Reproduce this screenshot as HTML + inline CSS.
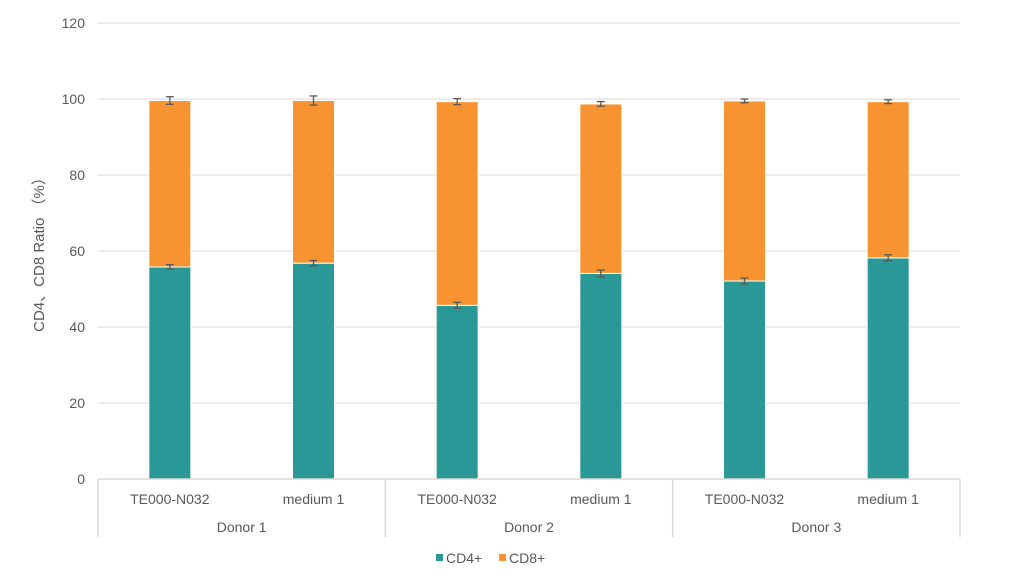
<!DOCTYPE html>
<html><head><meta charset="utf-8"><style>
body{margin:0;background:#fff;}
svg text{font-family:"Liberation Sans","Noto Sans CJK SC",sans-serif;fill:#595959;}
</style></head><body>
<svg id="chart" width="1012" height="573" viewBox="0 0 1012 573" xmlns="http://www.w3.org/2000/svg">
<g id="grid"></g>
<g id="yticks"></g>
<g id="bars"></g>
<g id="xaxis"></g>
<text transform="translate(44,251) rotate(-90)" text-anchor="middle" font-size="15">CD4、CD8 Ratio （%）</text>
<g>
<rect x="436" y="554" width="7" height="7" fill="#2a9896"/>
<text x="446" y="563" font-size="14">CD4+</text>
<rect x="499" y="554" width="7" height="7" fill="#f79431"/>
<text x="509" y="563" font-size="14">CD8+</text>
</g>
</svg>
<script>
const categories = ["TE000-N032","medium 1","TE000-N032","medium 1","TE000-N032","medium 1"];
const groups = ["Donor 1","Donor 2","Donor 3"];
const cd4 = [55.8, 56.8, 45.7, 54.1, 52.1, 58.2];
const cd8 = [43.8, 42.8, 53.6, 44.6, 47.4, 41.1];
const cd4Err = [0.6, 0.7, 0.8, 0.9, 0.8, 0.8];
const cd8Err = [1.0, 1.2, 0.8, 0.6, 0.5, 0.5];
const yTicks = [0, 20, 40, 60, 80, 100, 120];

const NS = "http://www.w3.org/2000/svg";
const X0 = 98, X1 = 960, Y0 = 479, Y1 = 23, YMAX = 120;
const y = v => Y0 - (v / YMAX) * (Y0 - Y1);
const slot = (X1 - X0) / categories.length;
const xc = i => X0 + slot * (i + 0.5);
const BW = 42;
function mk(tag, attrs, parent) {
  const e = document.createElementNS(NS, tag);
  for (const k in attrs) e.setAttribute(k, attrs[k]);
  parent.appendChild(e);
  return e;
}
const grid = document.getElementById('grid');
const yt = document.getElementById('yticks');
yTicks.forEach(t => {
  if (t > 0) {
    const l = mk('line', {x1: X0, x2: X1, y1: y(t), y2: y(t), stroke: '#d9d9d9', 'stroke-width': 1}, grid);
    
    
  }
  const tx = mk('text', {x: 85, y: y(t) + 5, 'text-anchor': 'end', 'font-size': 14}, yt);
  tx.textContent = t;
  
  
});
const bars = document.getElementById('bars');
function errBar(cx, v, e) {
  const g = mk('g', {stroke: '#595959', 'stroke-width': 1.3}, bars);
  
  
  mk('line', {x1: cx, x2: cx, y1: y(v + e), y2: y(v - e)}, g);
  mk('line', {x1: cx - 4, x2: cx + 4, y1: y(v + e), y2: y(v + e)}, g);
  mk('line', {x1: cx - 4, x2: cx + 4, y1: y(v - e), y2: y(v - e)}, g);
}
categories.forEach((c, i) => {
  const cx = xc(i);
  const r1 = mk('rect', {x: cx - BW / 2, y: y(cd4[i]), width: BW, height: y(0) - y(cd4[i]), fill: '#2a9896', stroke: '#fff', 'stroke-width': 1}, bars);
  
  
  const top = cd4[i] + cd8[i];
  const r2 = mk('rect', {x: cx - BW / 2, y: y(top), width: BW, height: y(cd4[i]) - y(top), fill: '#f79431', stroke: '#fff', 'stroke-width': 1}, bars);
  
  
  errBar(cx, cd4[i], cd4Err[i]);
  errBar(cx, top, cd8Err[i]);
});
const xa = document.getElementById('xaxis');
const ax = mk('line', {x1: X0, x2: X1, y1: Y0, y2: Y0, stroke: '#d9d9d9', 'stroke-width': 1.5}, xa);


for (let g = 0; g <= groups.length; g++) {
  const gx = X0 + slot * 2 * g;
  const s = mk('line', {x1: gx, x2: gx, y1: Y0, y2: 537, stroke: '#d9d9d9', 'stroke-width': 1.5}, xa);
  
  
}
categories.forEach((c, i) => {
  const t = mk('text', {x: xc(i), y: 504, 'text-anchor': 'middle', 'font-size': 14}, xa);
  t.textContent = c;
  
  
});
groups.forEach((g, i) => {
  const t = mk('text', {x: X0 + slot * (2 * i + 1), y: 532, 'text-anchor': 'middle', 'font-size': 14}, xa);
  t.textContent = g;
  
  
});
</script>
</body></html>
